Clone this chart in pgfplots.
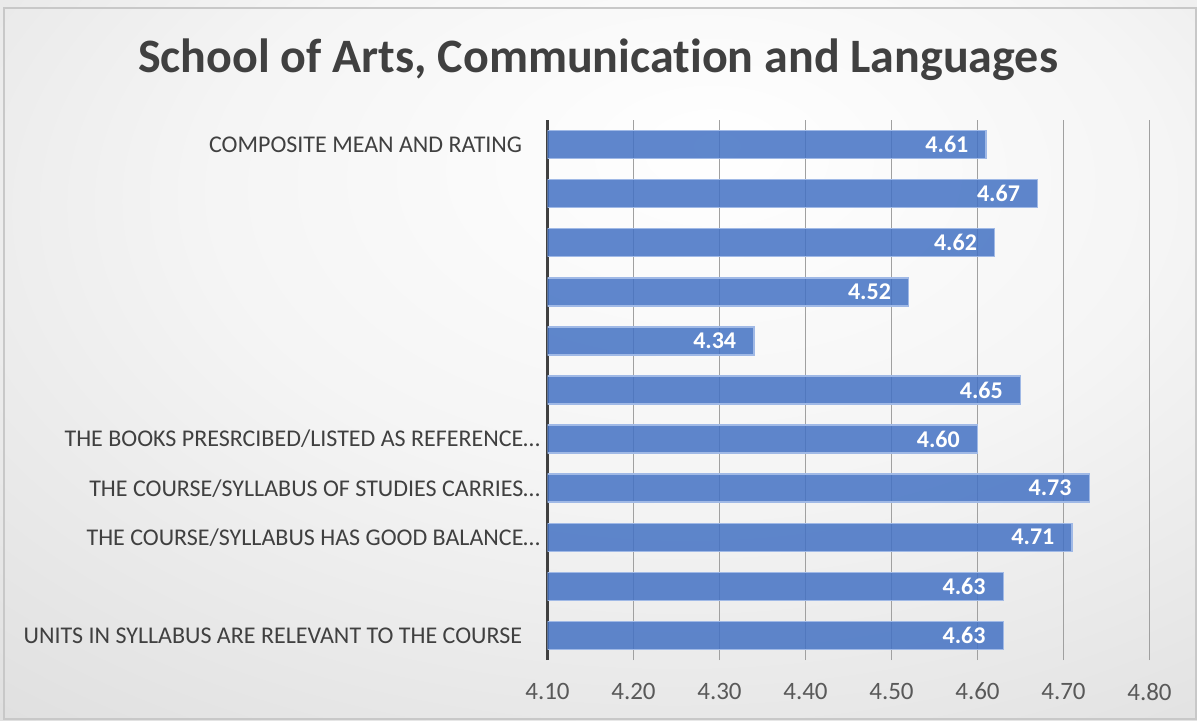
\documentclass[border=0pt]{standalone}
\usepackage{fontspec}
\setmainfont{Carlito}[Ligatures=NoCommon]
\usepackage{pgfplots}
\pgfplotsset{compat=1.18}
\definecolor{txt}{RGB}{64,64,64}
\definecolor{ticktxt}{RGB}{89,89,89}
\definecolor{barblue}{RGB}{68,114,196}
\definecolor{baredge}{RGB}{160,185,230}
\definecolor{gridc}{RGB}{160,160,160}
\pgfdeclareradialshading{bgshade}{\pgfpoint{5bp}{15bp}}{color(0bp)=(white); color(20bp)=(black!4); color(45bp)=(black!13); color(70bp)=(black!20); color(90bp)=(black!22)}
\begin{document}
\begin{tikzpicture}
\shade[shading=bgshade] (0,0) rectangle (598.5pt,360pt);
\useasboundingbox (0,0) rectangle (598.5pt,360pt);
\draw[color={rgb,255:red,200;green,200;blue,200}, line width=0.8pt] (2pt,0.5pt) rectangle (598pt,356pt);
\node[anchor=base, font=\fontsize{24}{27}\selectfont\bfseries, text=txt] at (299pt,324pt) {School of Arts, Communication and Languages};
\begin{axis}[
  at={(273.75pt,30pt)}, anchor=south west,
  scale only axis, width=301pt, height=270pt,
  xbar, bar shift=0pt, bar width=14pt,
  xmin=4.1, xmax=4.8, ymin=-0.5, ymax=10.5,
  xtick={4.1,4.2,4.3,4.4,4.5,4.6,4.7,4.8},
  ytick={0,1,2,3,4,5,6,7,8,9,10},
  yticklabels={UNITS IN SYLLABUS ARE RELEVANT TO THE COURSE\kern9pt,{},THE COURSE/SYLLABUS HAS GOOD BALANCE…,THE COURSE/SYLLABUS OF STUDIES CARRIES…,THE BOOKS PRESRCIBED/LISTED AS REFERENCE…,{},{},{},{},{},COMPOSITE MEAN AND RATING\kern9pt},
  /pgf/number format/assume math mode=true,
  xticklabel style={/pgf/number format/.cd, fixed, fixed zerofill, precision=2, /tikz/.cd, font=\fontsize{12.5}{14}\selectfont, text=ticktxt, yshift=-8pt},
  yticklabel style={font=\fontsize{12}{14}\selectfont, text=txt, anchor=east, inner sep=0pt, xshift=-3.5pt},
  major tick length=0pt,
  xmajorgrids, grid style={color=gridc, line width=0.6pt},
  separate axis lines, axis x line*=bottom, axis y line*=left,
  x axis line style={draw=none, -},
  y axis line style={draw=txt, line width=1.6pt, -},
  axis background/.style={fill=none},
  nodes near coords={\pgfmathprintnumber[fixed,fixed zerofill,precision=2]{\pgfplotspointmeta}},
  point meta=x,
  nodes near coords style={anchor=east, inner sep=0pt, xshift=-8.5pt, text=white, font=\fontsize{12}{14}\selectfont\bfseries, text opacity=1},
]
\addplot[fill=barblue, fill opacity=0.85, draw=baredge, line width=0.75pt] coordinates {
  (4.63,0) (4.63,1) (4.71,2) (4.73,3) (4.60,4) (4.65,5) (4.34,6) (4.52,7) (4.62,8) (4.67,9) (4.61,10)
};
\end{axis}
\end{tikzpicture}
\end{document}
